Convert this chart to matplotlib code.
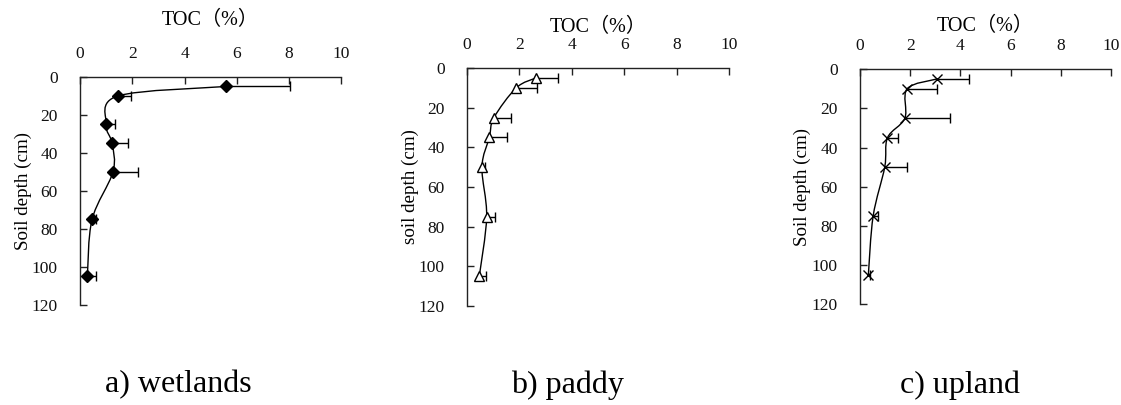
import matplotlib
matplotlib.use('Agg')
import matplotlib.pyplot as plt
from matplotlib.path import Path
from matplotlib.patches import PathPatch
import numpy as np

plt.rcParams['font.family'] = ['Liberation Serif', 'Noto Sans CJK JP', 'DejaVu Serif']

DEPTH = [5, 10, 25, 35, 50, 75, 105]

WETLANDS_TOC = [5.6, 1.45, 1.0, 1.23, 1.26, 0.46, 0.28]
WETLANDS_ERR = [2.45, 0.5, 0.34, 0.61, 0.95, 0.14, 0.32]

PADDY_TOC = [2.63, 1.88, 1.03, 0.85, 0.57, 0.75, 0.47]
PADDY_ERR = [0.83, 0.78, 0.66, 0.69, 0.1, 0.33, 0.24]

UPLAND_TOC = [3.05, 1.88, 1.79, 1.1, 0.99, 0.53, 0.34]
UPLAND_ERR = [1.29, 1.17, 1.81, 0.42, 0.89, 0.2, 0.07]

PANELS = [
    # values, errors, marker, y label, caption
    (WETLANDS_TOC, WETLANDS_ERR, 'D', 'Soil depth (cm)', 'a) wetlands'),
    (PADDY_TOC, PADDY_ERR, '^', 'soil depth (cm)', 'b) paddy'),
    (UPLAND_TOC, UPLAND_ERR, 'x', 'Soil depth (cm)', 'c) upland'),
]

# axes boxes in figure fractions
BOXES = [
    [0.0714, 0.247, 0.233, 0.563],
    [0.4166, 0.245, 0.2337, 0.587],
    [0.767, 0.249, 0.2245, 0.580],
]
TOC_PAD = [14.5, 3.5, 5]
CAPTION_X = [0.159, 0.506, 0.856]


def smooth_path(xs, ys):
    # excel-like smoothed line: catmull-rom segments as cubic beziers
    pts = np.column_stack([xs, ys]).astype(float)
    ext = np.vstack([pts[0], pts, pts[-1]])
    verts = [pts[0]]
    codes = [Path.MOVETO]
    for i in range(1, len(ext) - 2):
        p0, p1, p2, p3 = ext[i - 1], ext[i], ext[i + 1], ext[i + 2]
        verts += [p1 + (p2 - p0) / 6, p2 - (p3 - p1) / 6, p2]
        codes += [Path.CURVE4] * 3
    return Path(verts, codes)


def main():
    fig = plt.figure(figsize=(11.21, 4.05), dpi=100)
    for n, (vals, errs, marker, ylab, caption) in enumerate(PANELS):
        ax = fig.add_axes(BOXES[n])
        ax.add_patch(PathPatch(smooth_path(vals, DEPTH), facecolor='none',
                               edgecolor='black', lw=1.0, zorder=2))
        eb = ax.errorbar(vals, DEPTH, xerr=[np.zeros(len(errs)), errs], fmt='none',
                         ecolor='black', elinewidth=1.0, capsize=3.5, capthick=1.0, zorder=2)
        eb[1][0].set_visible(False)
        if marker == 'D':
            ax.plot(vals, DEPTH, 'D', color='black', ms=6, zorder=3)
        elif marker == '^':
            ax.plot(vals, DEPTH, '^', mfc='white', mec='black', mew=1.0, ms=7, zorder=3)
        else:
            ax.plot(vals, DEPTH, 'x', color='black', mew=1.0, ms=6.5, zorder=3)

        ax.set_xlim(0, 10)
        ax.set_ylim(120, 0)
        ax.set_xticks(range(0, 11, 2))
        ax.set_yticks(range(0, 121, 20))
        ax.xaxis.tick_top()
        ax.xaxis.set_label_position('top')
        ax.tick_params(axis='x', direction='in', length=5, width=1.0, pad=11,
                       labelsize=12.5, colors='#222222', labelcolor='#111111')
        ax.tick_params(axis='y', direction='in', length=5, width=1.0, pad=16,
                       labelsize=12.5, colors='#222222', labelcolor='#111111')
        for side in ['right', 'bottom']:
            ax.spines[side].set_visible(False)
        for side in ['top', 'left']:
            ax.spines[side].set_linewidth(1.0)
            ax.spines[side].set_color('#222222')
        ax.set_xlabel('TOC（%）', fontsize=14.5, labelpad=TOC_PAD[n])
        ax.set_ylabel(ylab, fontsize=13.7, labelpad=0)
        fig.text(CAPTION_X[n], 0.05, caption, fontsize=23, ha='center', va='center')

    fig.savefig('out.png', dpi=100)


if __name__ == '__main__':
    main()
